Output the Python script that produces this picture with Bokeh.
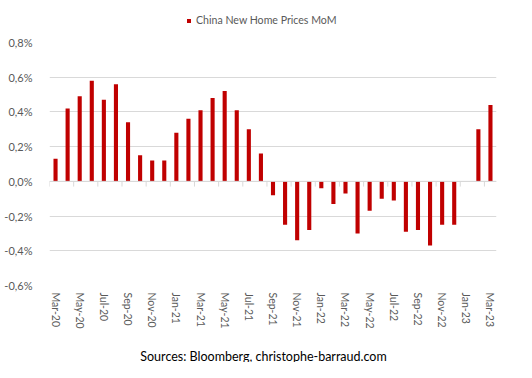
from bokeh.plotting import figure
from bokeh.layouts import column
from bokeh.models import (Range1d, FixedTicker, Span, Legend, LegendItem, Label,
                          ColumnDataSource)
from bokeh.embed import file_html
from bokeh.resources import INLINE

months = ["Mar-20", "Apr-20", "May-20", "Jun-20", "Jul-20", "Aug-20", "Sep-20", "Oct-20",
          "Nov-20", "Dec-20", "Jan-21", "Feb-21", "Mar-21", "Apr-21", "May-21", "Jun-21",
          "Jul-21", "Aug-21", "Sep-21", "Oct-21", "Nov-21", "Dec-21", "Jan-22", "Feb-22",
          "Mar-22", "Apr-22", "May-22", "Jun-22", "Jul-22", "Aug-22", "Sep-22", "Oct-22",
          "Nov-22", "Dec-22", "Jan-23", "Feb-23", "Mar-23"]
mom = [0.13, 0.42, 0.49, 0.58, 0.47, 0.56, 0.34, 0.15,
       0.12, 0.12, 0.28, 0.36, 0.41, 0.48, 0.52, 0.41,
       0.30, 0.16, -0.08, -0.25, -0.34, -0.28, -0.04, -0.13,
       -0.07, -0.30, -0.17, -0.10, -0.11, -0.29, -0.28, -0.37,
       -0.25, -0.25, 0.0, 0.30, 0.44]
y_ticks = [-0.6, -0.4, -0.2, 0.0, 0.2, 0.4, 0.6, 0.8]
series_name = "China New Home Prices MoM"
source_text = "Sources: Bloomberg, christophe-barraud.com"

FONT = "Lato"
GRAY = "#595959"
RED = "#c00000"
W = 516
FW = 447

idx = list(range(len(months)))
src = ColumnDataSource(dict(x=idx, y=mom))


def blank_fig(h):
    f = figure(width=W, height=h, output_backend="svg", toolbar_location=None,
               x_axis_type=None, y_axis_type=None,
               x_range=Range1d(0, FW), y_range=Range1d(0, h),
               min_border_left=49, min_border_right=20, min_border_top=0, min_border_bottom=0)
    f.outline_line_color = None
    f.xgrid.grid_line_color = None
    f.ygrid.grid_line_color = None
    f.background_fill_color = "white"
    f.border_fill_color = "white"
    return f


# ---- legend strip ----
top = blank_fig(35)
proxy = top.vbar(x="x", top="y", width=0.34, source=src, fill_color=RED, line_color=None,
                 visible=False)
legend = Legend(items=[LegendItem(label=series_name, renderers=[proxy])],
                location=(137, 8), orientation="horizontal",
                glyph_width=5, glyph_height=5, label_standoff=5,
                label_text_font=FONT, label_text_font_size="10.6px", label_text_color=GRAY,
                padding=0, margin=0, border_line_color=None, background_fill_alpha=0,
                inactive_fill_alpha=0, label_height=14)
top.add_layout(legend)

# ---- main chart ----
p = figure(frame_width=FW, frame_height=243, output_backend="svg", toolbar_location=None,
           x_range=Range1d(-0.5, len(months) - 0.5), y_range=Range1d(y_ticks[0], y_ticks[-1]),
           min_border_left=49, min_border_right=20, min_border_top=7, min_border_bottom=40)
p.outline_line_color = None
p.background_fill_color = "white"
p.border_fill_color = "white"

r = p.vbar(x="x", top="y", bottom=0, width=0.34, source=src, fill_color=RED, line_color=None)

p.add_layout(Span(location=0, dimension="width", line_color="#d9d9d9", line_width=1))
tick_x = [i - 0.5 for i in range(0, len(months), 2)]
p.segment(x0=tick_x, x1=tick_x, y0=[0] * len(tick_x), y1=[-0.03] * len(tick_x),
          line_color="#d9d9d9", line_width=1)

p.yaxis.ticker = FixedTicker(ticks=y_ticks)
p.yaxis.major_label_overrides = {t: (f"{t:.1f}%").replace(".", ",") for t in y_ticks}
p.yaxis.axis_line_color = None
p.yaxis.major_tick_line_color = None
p.yaxis.minor_tick_line_color = None
p.yaxis.major_label_text_font = FONT
p.yaxis.major_label_text_font_size = "11px"
p.yaxis.major_label_text_color = GRAY
p.yaxis.major_label_standoff = 11
p.ygrid.ticker = FixedTicker(ticks=y_ticks)
p.ygrid.grid_line_color = "#d9d9d9"

x_ticks = list(range(0, len(months), 2))
p.xaxis.ticker = FixedTicker(ticks=x_ticks)
p.xaxis.major_label_overrides = {i: months[i] for i in x_ticks}
p.xaxis.major_label_orientation = "vertical"
p.xaxis.axis_line_color = None
p.xaxis.major_tick_line_color = None
p.xaxis.minor_tick_line_color = None
p.xaxis.major_tick_out = 0
p.xaxis.major_label_text_font = FONT
p.xaxis.major_label_text_font_size = "10.5px"
p.xaxis.major_label_text_color = GRAY
p.xaxis.major_label_standoff = 7
p.xgrid.grid_line_color = None

# ---- source strip ----
bot = blank_fig(31)
bot.add_layout(Label(x=214, y=6, x_units="screen", y_units="screen", text=source_text,
                     text_align="center", text_baseline="alphabetic", text_font=FONT,
                     text_font_size="12.5px", text_color="black"))

layout = column(top, p, bot, spacing=0)
open("out.html", "w").write(file_html(layout, INLINE))
